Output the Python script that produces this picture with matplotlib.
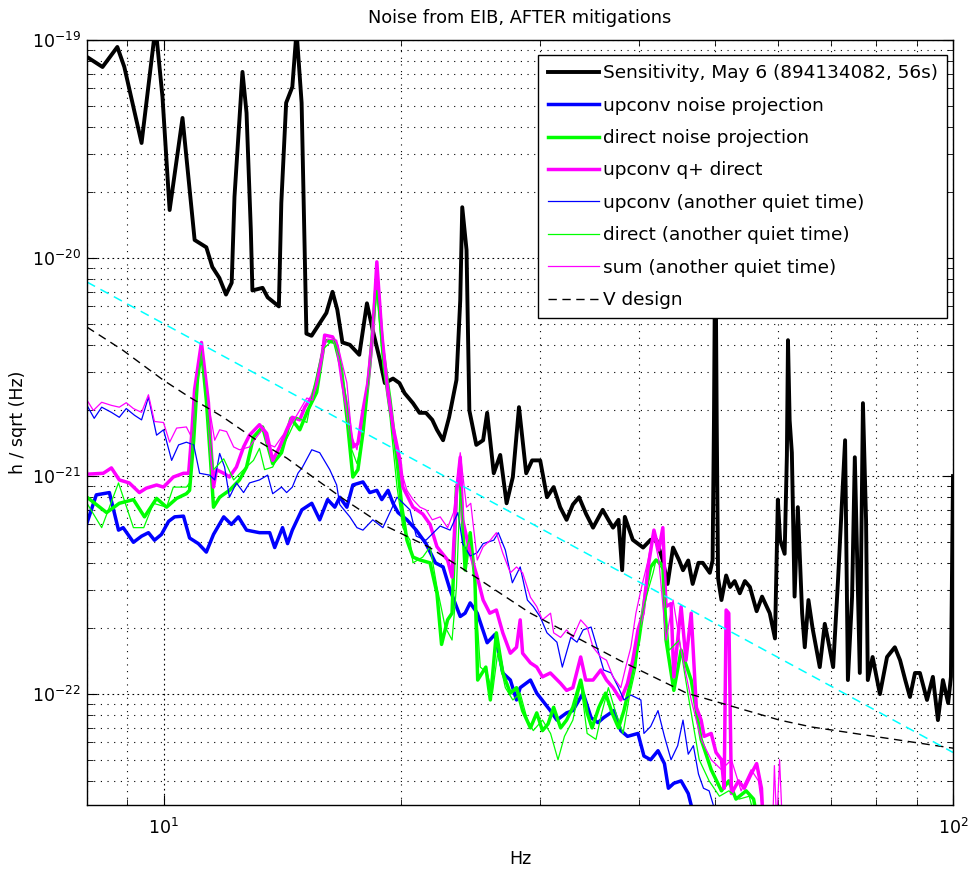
import numpy as np
import matplotlib
matplotlib.use("Agg")
import matplotlib.pyplot as plt
from matplotlib.ticker import NullFormatter

# all amplitudes below are in units of 1e-22 /sqrt(Hz)
UNIT = 1e-22

# sensitivity, May 6
sens_f = [8.0, 8.37, 8.74, 8.92, 9.38, 9.77, 9.97, 10.18, 10.57, 10.95,
          11.33, 11.53, 11.77, 12.0, 12.2, 12.3, 12.59, 12.74, 12.9, 12.96,
          13.35, 13.55, 14.0, 14.1, 14.3, 14.56, 14.74, 14.96, 15.17, 15.4,
          15.76, 16.08, 16.37, 16.6, 16.85, 17.22, 17.7, 18.1, 18.4, 18.8,
          19.07, 19.53, 19.9, 20.2, 20.7, 21.1, 21.5, 21.9, 22.2, 22.6,
          23.0, 23.5, 23.76, 23.9, 24.2, 24.4, 24.9, 25.4, 25.7, 26.2,
          26.7, 27.2, 27.7, 28.2, 28.8, 29.3, 30.0, 30.6, 31.2, 31.8,
          32.4, 33.0, 33.6, 34.3, 35.0, 36.0, 36.6, 37.1, 37.7, 38.1,
          38.4, 39.3, 40.5, 41.4, 42.1, 42.9, 43.5, 44.2, 45.0, 45.5,
          46.2, 46.8, 47.6, 48.2, 49.2, 49.6, 49.8, 49.95, 50.05, 50.2,
          50.4, 50.9, 51.6, 52.2, 52.9, 53.7, 54.5, 55.3, 56.4, 57.3,
          58.6, 59.5, 60.0, 60.4, 61.2, 61.6, 61.8, 62.1, 62.5, 63.0,
          63.6, 64.4, 64.9, 65.6, 66.4, 67.8, 68.8, 69.4, 70.5, 71.5,
          71.9, 73.0, 73.6, 74.5, 75.1, 76.2, 76.9, 77.6, 78.0, 79.1,
          80.8, 82.5, 84.4, 85.7, 87.0, 88.2, 89.5, 90.8, 92.7, 94.3,
          95.7, 97.1, 98.6, 99.4, 100.0]
sens_a = [836, 752, 929, 752, 337, 1150, 548, 166, 439, 121,
          112, 91, 81, 68, 77, 191, 714, 463, 135, 71,
          73, 66, 60, 179, 515, 609, 1100, 515, 45, 44,
          50, 56, 70, 58, 41, 40, 36, 62, 47, 34,
          26.7, 28, 26.7, 24, 21.6, 19.5, 19.5, 18.1, 16.3, 14.6,
          18.6, 27.6, 64, 171, 109, 20, 13.9, 14.6, 19.5, 10.3,
          12.5, 7.5, 9.9, 20.7, 10.3, 11.8, 11.8, 8.0, 8.9, 7.2,
          6.3, 7.4, 8.0, 6.7, 5.8, 7.0, 6.3, 5.8, 6.3, 3.7,
          6.5, 5.1, 4.7, 5.1, 5.1, 4.1, 3.2, 4.7, 4.1, 3.7,
          4.1, 3.2, 4.0, 4.0, 3.6, 4.1, 18, 90, 90, 18,
          3.4, 2.7, 3.5, 3.1, 3.3, 2.9, 3.3, 3.1, 2.4, 2.8,
          2.35, 1.8, 7.8, 5.1, 4.4, 12.4, 42, 18, 12.8, 2.8,
          7.2, 2.35, 1.64, 2.7, 2.0, 1.33, 2.1, 1.8, 1.33, 3.3,
          4.9, 14.6, 1.16, 2.8, 12.2, 1.25, 21.6, 6.3, 1.16, 1.48,
          1.0, 1.48, 1.64, 1.43, 1.16, 0.97, 1.25, 1.25, 0.94, 1.2,
          0.76, 1.16, 0.91, 1.2, 10]

# upconv noise projection (thick blue)
up_f = [8.0, 8.22, 8.54, 8.77, 8.89, 9.16, 9.38, 9.57, 9.74, 9.94,
        10.15, 10.33, 10.6, 10.79, 11.07, 11.33, 11.57, 11.92, 12.19, 12.44,
        12.74, 13.23, 13.63, 13.83, 14.15, 14.36, 14.56, 14.97, 15.41, 15.77,
        16.14, 16.48, 16.72, 17.07, 17.37, 17.89, 18.25, 18.63, 18.9, 19.25,
        19.53, 19.82, 20.34, 20.9, 21.5, 22.1, 22.6, 23.07, 23.76, 24.1,
        24.46, 24.97, 25.7, 26.3, 26.9, 27.5, 28.0, 28.3, 29.16, 29.7,
        30.9, 31.5, 32.4, 33.0, 34.0, 34.8, 35.5, 36.1, 37.2, 37.95,
        38.7, 39.9, 40.6, 41.4, 42.3, 43.1, 43.6, 44.3, 45.25, 46.2,
        47.3]
up_a = [6.1, 8.2, 8.4, 5.65, 5.8, 4.97, 5.3, 5.5, 5.08, 5.4,
        6.2, 6.5, 6.55, 5.2, 4.9, 4.48, 5.4, 6.5, 6.0, 6.5,
        5.65, 5.5, 5.5, 4.7, 5.8, 4.9, 5.65, 7.0, 7.5, 6.3,
        7.8, 7.2, 8.0, 7.2, 9.1, 9.4, 8.4, 8.6, 7.8, 8.6,
        7.5, 6.8, 6.3, 5.65, 4.9, 4.0, 3.83, 3.0, 2.27, 2.35,
        2.62, 2.35, 1.72, 1.88, 1.25, 1.16, 0.94, 1.07, 1.16, 1.01,
        0.84, 0.76, 0.82, 0.84, 1.01, 0.78, 0.74, 0.78, 0.84, 0.68,
        0.64, 0.66, 0.52, 0.50, 0.55, 0.48, 0.37, 0.39, 0.40, 0.35,
        0.25]

# direct noise projection (thick green)
dir_f = [8.0, 8.47, 8.79, 9.16, 9.46, 9.8, 10.09, 10.39, 10.69, 10.79,
         10.92, 11.04, 11.17, 11.33, 11.47, 11.57, 11.78, 12.12, 12.48, 12.74,
         13.0, 13.35, 13.75, 14.11, 14.5, 14.88, 15.23, 15.63, 16.0, 16.48,
         16.8, 17.1, 17.37, 17.63, 17.89, 18.25, 18.63, 18.96, 19.36, 19.76,
         20.04, 20.34, 20.7, 21.13, 21.76, 22.2, 22.5, 22.9, 23.2, 23.5,
         23.76, 24.1, 24.46, 24.8, 25.0, 25.6, 25.94, 26.4, 26.9, 27.5,
         28.0, 28.5, 29.16, 29.7, 30.2, 30.7, 31.2, 31.84, 32.4, 33.0,
         33.76, 34.4, 34.9, 35.6, 36.3, 37.0, 37.7, 38.3, 38.9, 39.4,
         40.0, 40.84, 41.4, 42.05, 42.9, 43.3, 44.3, 45.25, 46.6, 47.97,
         49.4, 50.9, 52.0, 53.1, 54.7, 55.9, 56.7]
dir_a = [8.0, 6.8, 7.5, 7.8, 6.5, 7.9, 7.2, 7.9, 8.3, 8.6,
         14.6, 27.6, 38, 22.3, 11.8, 7.2, 8.0, 8.6, 9.6, 11.0,
         15.1, 16.8, 11.4, 12.8, 18.4, 16.3, 20.0, 24.2, 42, 41,
         31, 17.6, 9.9, 10.7, 15.8, 32, 83, 38, 22.3, 11.8,
         7.2, 5.08, 4.25, 4.12, 4.0, 2.9, 1.69, 2.19, 2.35, 8.9,
         9.9, 3.71, 5.5, 3.34, 1.16, 1.33, 0.94, 1.91, 1.25, 1.01,
         1.07, 0.84, 0.70, 0.82, 0.68, 0.73, 0.87, 0.70, 0.76, 0.87,
         1.16, 0.82, 0.70, 0.87, 1.01, 0.82, 0.70, 0.84, 1.07, 1.33,
         1.77, 3.0, 3.83, 4.12, 3.9, 1.77, 1.04, 1.59, 1.16, 0.62,
         0.45, 0.36, 0.40, 0.33, 0.36, 0.33, 0.25]

# upconv q+ direct (thick magenta)
sum_f = [8.0, 8.39, 8.59, 8.79, 9.05, 9.32, 9.51, 9.8, 10.0, 10.29,
         10.6, 10.76, 10.85, 10.95, 11.17, 11.4, 11.57, 11.67, 11.92, 12.12,
         12.37, 12.63, 12.85, 13.23, 13.51, 13.75, 14.03, 14.32, 14.56, 14.88,
         15.1, 15.41, 15.63, 15.9, 16.0, 16.37, 16.6, 16.85, 17.1, 17.37,
         17.63, 17.89, 18.15, 18.41, 18.63, 18.9, 19.18, 19.53, 19.93, 20.1,
         20.7, 21.3, 21.76, 22.2, 22.9, 23.2, 23.5, 23.76, 23.93, 24.46,
         24.97, 25.4, 25.9, 26.4, 26.9, 27.5, 28.0, 28.3, 28.5, 29.16,
         29.7, 30.2, 30.9, 31.84, 32.4, 33.0, 33.76, 34.26, 35.0, 35.8,
         36.4, 37.1, 37.95, 38.7, 39.3, 39.9, 40.5, 41.1, 41.8, 42.4,
         42.9, 43.3, 43.94, 44.3, 45.25, 45.9, 46.6, 47.3, 47.97, 48.4,
         49.4, 50.1, 50.9, 51.3, 51.6, 52.0, 52.4, 53.5, 54.4, 55.5,
         56.4, 57.2, 57.5]
sum_a = [10.2, 10.3, 10.9, 9.6, 9.3, 8.4, 8.8, 9.1, 8.9, 9.9,
         10.3, 10.3, 15.1, 25, 41, 21.7, 8.9, 10.7, 10.3, 9.9,
         11.0, 13.6, 15.4, 17.2, 15.7, 11.8, 13.6, 16.3, 18.6, 18.1,
         20.7, 23.1, 26.8, 36.8, 44.3, 43.5, 39.4, 26.8, 20.0, 13.6,
         14.1, 20.0, 26.8, 45, 96, 45, 26.8, 16.8, 11.8, 8.9,
         7.2, 6.7, 6.0, 4.74, 4.12, 3.44, 8.3, 12.2, 6.3, 4.43,
         3.44, 2.7, 2.35, 2.43, 1.91, 1.54, 1.64, 2.19, 1.54, 1.39,
         1.33, 1.2, 1.25, 1.12, 1.04, 1.07, 1.48, 1.16, 1.16, 1.29,
         1.16, 1.07, 0.94, 1.12, 1.43, 1.97, 2.35, 3.83, 5.65, 4.58,
         5.8, 2.52, 2.6, 1.2, 2.52, 1.43, 2.35, 0.87, 0.76, 0.64,
         0.66, 0.54, 0.50, 0.37, 2.43, 2.35, 0.35, 0.40, 0.37, 0.43,
         0.48, 0.37, 0.25]

# upconv, another quiet time (thin blue)
upq_f = [8.0, 8.17, 8.35, 8.59, 8.79, 8.97, 9.19, 9.38, 9.57, 9.8,
         10.0, 10.24, 10.45, 10.69, 10.92, 11.11, 11.44, 11.61, 11.78, 11.95,
         12.12, 12.37, 12.63, 12.85, 13.23, 13.55, 13.75, 14.11, 14.32, 14.56,
         14.8, 15.0, 15.41, 15.77, 16.24, 16.57, 16.72, 17.22, 17.58, 17.89,
         18.41, 18.96, 19.76, 20.52, 20.9, 21.5, 22.41, 23.07, 23.6, 23.93,
         24.46, 24.97, 25.4, 26.2, 26.55, 27.1, 27.66, 28.3, 28.9, 29.4,
         30.0, 30.6, 31.5, 32.0, 32.8, 33.4, 34.0, 34.8, 35.5, 36.1,
         36.9, 37.7, 38.3, 39.08, 40.24, 40.6, 41.4, 42.3, 43.1, 43.94,
         44.8, 45.5, 46.2, 46.9, 47.6, 48.3, 49.1, 49.7, 50.0]
upq_a = [21.1, 18.4, 20.7, 19.6, 18.6, 20.4, 19.0, 18.1, 23.0, 15.4,
         16.3, 11.8, 13.9, 14.3, 13.9, 10.3, 10.1, 9.6, 12.7, 11.0,
         8.0, 9.3, 8.4, 9.3, 9.6, 10.1, 8.3, 8.9, 8.4, 8.9,
         10.3, 11.0, 13.2, 12.8, 10.7, 9.1, 7.4, 6.5, 5.8, 5.65,
         6.3, 5.8, 8.0, 7.0, 5.3, 5.08, 5.9, 5.65, 6.8, 4.9,
         4.3, 4.45, 4.9, 5.08, 5.5, 4.58, 3.24, 3.83, 2.7, 2.52,
         2.26, 1.91, 1.73, 1.33, 1.82, 1.73, 1.97, 2.03, 1.59, 1.29,
         1.25, 1.07, 0.94, 0.99, 0.94, 0.66, 0.71, 0.84, 0.64, 0.50,
         0.58, 0.76, 0.53, 0.58, 0.43, 0.37, 0.36, 0.31, 0.25]

# direct, another quiet time (thin green)
dirq_f = [8.0, 8.35, 8.77, 9.16, 9.44, 9.71, 10.09, 10.29, 10.69, 10.79,
          10.95, 11.17, 11.37, 11.57, 11.92, 12.27, 12.63, 13.0, 13.23, 13.43,
          13.75, 14.15, 14.45, 14.75, 15.19, 15.45, 15.9, 16.43, 16.72, 17.07,
          17.32, 17.58, 17.84, 18.15, 18.63, 18.96, 19.36, 19.76, 20.1, 20.52,
          20.7, 21.3, 21.76, 22.2, 22.74, 23.2, 23.5, 23.76, 24.1, 24.5,
          24.8, 25.19, 25.7, 26.1, 26.5, 27.1, 27.7, 28.3, 28.9, 29.4,
          30.2, 30.92, 31.6, 32.2, 33.0, 33.76, 34.4, 35.3, 35.9, 36.6,
          37.4, 38.2, 38.9, 39.66, 40.24, 41.1, 41.7, 42.05, 42.9, 43.7,
          45.0, 46.3, 47.7, 49.1, 50.6, 52.0, 53.6, 55.2, 56.4]
dirq_a = [7.5, 5.8, 9.3, 5.8, 5.8, 7.5, 7.2, 8.9, 8.9, 9.3,
          22.3, 38, 20.0, 10.7, 12.0, 9.6, 10.7, 11.8, 13.4, 10.7,
          11.0, 13.6, 15.8, 18.6, 17.6, 24.2, 38, 42.5, 35, 21.7,
          13.2, 11.4, 14.6, 25.7, 71, 32, 18.6, 8.9, 5.8, 5.08,
          4.0, 4.25, 4.74, 3.1, 2.03, 1.77, 3.1, 8.9, 4.43, 5.5,
          3.1, 1.33, 1.25, 1.01, 1.54, 1.07, 0.94, 1.01, 0.76, 0.68,
          0.76, 0.66, 0.50, 0.64, 0.76, 1.12, 0.66, 0.62, 0.82, 1.07,
          0.82, 0.66, 0.97, 1.33, 2.19, 3.0, 3.6, 4.12, 3.71, 1.59,
          1.77, 0.94, 0.50, 0.40, 0.34, 0.36, 0.33, 0.34, 0.25]

# sum, another quiet time (thin magenta)
sumq_f = [8.0, 8.15, 8.35, 8.59, 8.79, 8.97, 9.16, 9.38, 9.57, 9.74,
          10.0, 10.18, 10.39, 10.69, 10.85, 10.95, 11.17, 11.4, 11.61, 11.78,
          12.02, 12.27, 12.48, 12.85, 13.12, 13.39, 13.51, 13.83, 14.11, 14.45,
          14.8, 15.19, 15.45, 15.9, 16.14, 16.57, 16.8, 17.07, 17.32, 17.58,
          17.84, 18.1, 18.41, 18.63, 18.9, 19.18, 19.53, 19.93, 20.34, 20.7,
          21.13, 21.5, 21.9, 22.41, 22.9, 23.3, 23.76, 24.2, 24.5, 24.97,
          25.4, 25.94, 26.4, 26.9, 27.5, 28.0, 28.5, 29.16, 29.7, 30.2,
          30.92, 31.2, 31.84, 32.4, 33.0, 33.76, 34.4, 35.0, 35.8, 36.4,
          37.1, 37.95, 38.5, 39.08, 39.66, 40.24, 41.1, 41.7, 42.4, 43.3,
          44.2, 45.25, 46.6, 47.97, 49.4, 50.9, 52.4, 53.9, 55.5, 56.7,
          57.7, 59.1, 59.4, 59.8, 60.3, 60.8]
sumq_a = [22.3, 20.0, 21.8, 21.1, 20.7, 21.7, 20.4, 19.6, 23.6, 17.8,
          17.6, 14.3, 16.6, 16.8, 15.1, 25, 40, 21.7, 14.6, 16.3,
          16.0, 13.6, 13.2, 13.6, 15.1, 16.6, 14.1, 13.6, 15.1, 16.8,
          19.4, 22.8, 22.3, 38, 42.5, 42, 34, 26.8, 15.1, 13.2,
          18.6, 25.7, 45, 93, 45, 24.2, 15.8, 11.0, 8.6, 7.8,
          7.2, 7.0, 6.3, 6.5, 5.8, 6.8, 12.8, 7.2, 7.5, 4.12,
          4.74, 5.08, 5.5, 4.43, 3.6, 3.83, 3.6, 2.78, 2.52, 2.19,
          2.35, 1.91, 1.82, 1.97, 1.82, 2.19, 2.03, 1.64, 1.48, 1.43,
          1.2, 1.07, 1.33, 1.64, 2.35, 3.0, 4.12, 5.5, 4.12, 1.77,
          2.7, 1.59, 0.94, 0.62, 0.50, 0.45, 0.50, 0.36, 0.45, 0.40,
          0.25, 0.25, 0.47, 0.25, 0.50, 0.25]

# Virgo design curve
vd_f = [8.0, 8.87, 10.0, 10.79, 11.88, 13.12, 14.32, 15.77, 16.86, 18.8,
        21.7, 25.2, 29.1, 37.8, 46.0, 60.3, 66.3, 100.0]
vd_a = [48.2, 37.9, 27.5, 23.0, 18.7, 14.6, 12.1, 9.4, 7.9, 6.08,
        4.72, 3.33, 2.36, 1.43, 1.01, 0.76, 0.706, 0.565]

# cyan reference line (no legend entry)
ref_f = [8.0, 100.0]
ref_a = [77.6, 0.54]

plt.rcParams["font.family"] = "DejaVu Sans"
plt.rcParams["font.size"] = 12.5
plt.rcParams["mathtext.default"] = "regular"

fig = plt.figure(figsize=(9.73, 8.73), dpi=100)
ax = fig.add_axes([87 / 973, 1 - 805 / 873, 866 / 973, 765 / 873])

def amp(vals):
    return np.array(vals) * UNIT

ax.loglog(sens_f, amp(sens_a), color="k", lw=2.8, label="Sensitivity, May 6 (894134082, 56s)")
ax.loglog(up_f, amp(up_a), color=(0, 0, 1), lw=2.5, label="upconv noise projection")
ax.loglog(dir_f, amp(dir_a), color=(0, 1, 0), lw=2.5, label="direct noise projection")
ax.loglog(sum_f, amp(sum_a), color=(1, 0, 1), lw=2.5, label="upconv q+ direct")
ax.loglog(upq_f, amp(upq_a), color=(0, 0, 1), lw=0.9, label="upconv (another quiet time)")
ax.loglog(dirq_f, amp(dirq_a), color=(0, 1, 0), lw=0.9, label="direct (another quiet time)")
ax.loglog(sumq_f, amp(sumq_a), color=(1, 0, 1), lw=0.9, label="sum (another quiet time)")
ax.loglog(vd_f, amp(vd_a), color="k", ls=(0, (6, 4)), lw=1.0, label="V design")
ax.loglog(ref_f, amp(ref_a), color=(0, 1, 1), ls=(0, (6, 4)), lw=1.1)

ax.set_xlim(8, 100)
ax.set_ylim(3.1e-23, 1e-19)
ax.set_xticks([10, 100])
ax.set_yticks([1e-22, 1e-21, 1e-20, 1e-19])

# matlab style dotted grid and inward ticks
ax.grid(True, which="major", ls=(0, (1.5, 3)), color="k", lw=0.8)
ax.grid(True, which="minor", ls=(0, (1, 5)), color="k", lw=0.8)
ax.xaxis.set_minor_formatter(NullFormatter())
ax.yaxis.set_minor_formatter(NullFormatter())
ax.tick_params(which="both", direction="in", top=True, right=True)
ax.tick_params(which="major", length=7)
ax.tick_params(which="minor", length=4)
ax.tick_params(axis="x", pad=9)
ax.tick_params(axis="y", pad=4.5)
for s in ax.spines.values():
    s.set_linewidth(1.0)

ax.set_title("Noise from EIB, AFTER mitigations", fontsize=12.8, pad=12)
ax.set_xlabel("Hz")
ax.set_ylabel("h / sqrt (Hz)")
ax.xaxis.set_label_coords(0.5, -(850 - 805) / 765)
ax.yaxis.set_label_coords(-(87 - 27) / 866, 0.5)

leg = ax.legend(loc="upper right", bbox_to_anchor=(947 / 973, 1 - 55 / 873),
                bbox_transform=fig.transFigure, borderaxespad=0, fancybox=False,
                edgecolor="k", framealpha=1, handlelength=2.8, handletextpad=0.18,
                labelspacing=0.78, borderpad=0.5, fontsize=13.3)
leg.get_frame().set_linewidth(1.0)

fig.savefig("out.png", dpi=100)
